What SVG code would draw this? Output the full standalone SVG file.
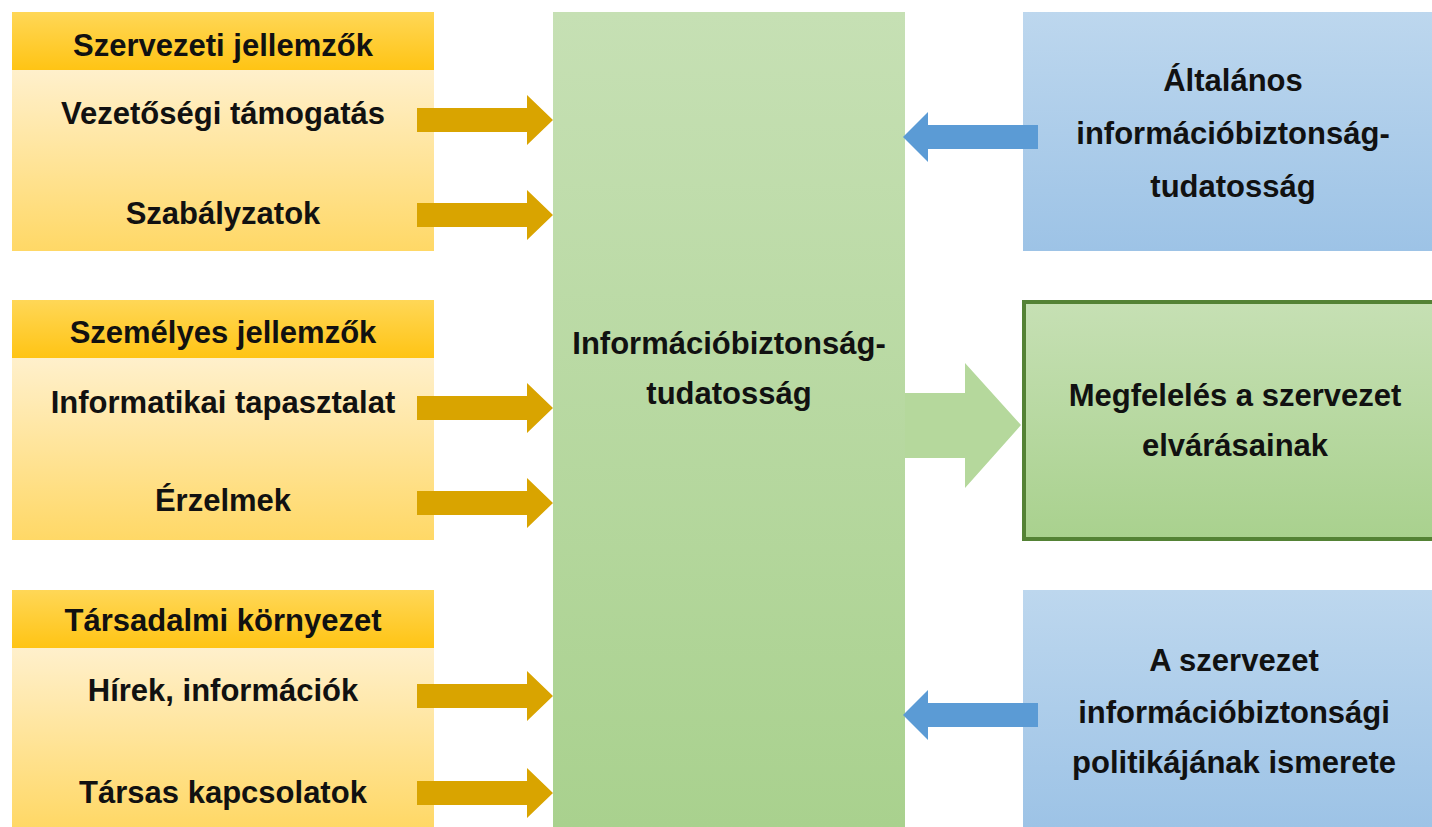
<svg xmlns="http://www.w3.org/2000/svg" width="1432" height="827" viewBox="0 0 1432 827">
<defs>
<linearGradient id="gHead" x1="0" y1="0" x2="0" y2="1"><stop offset="0" stop-color="#ffd757"/><stop offset="1" stop-color="#ffc414"/></linearGradient>
<linearGradient id="gBody" x1="0" y1="0" x2="0" y2="1"><stop offset="0" stop-color="#fff0cc"/><stop offset="1" stop-color="#ffd866"/></linearGradient>
<linearGradient id="gGreen" x1="0" y1="0" x2="0" y2="1"><stop offset="0" stop-color="#c6e0b4"/><stop offset="1" stop-color="#a9d18e"/></linearGradient>
<linearGradient id="gBlue" x1="0" y1="0" x2="0" y2="1"><stop offset="0" stop-color="#bdd7ee"/><stop offset="1" stop-color="#9dc3e6"/></linearGradient>
<polygon id="goldArrow" points="0,-12 110,-12 110,-25 136,0 110,25 110,12 0,12"/>
<polygon id="blueArrow" points="0,0 25,-25 25,-12 135,-12 135,12 25,12 25,25"/>
</defs>
<style>
text{font-family:"Liberation Sans",Arial,sans-serif;font-weight:bold;font-size:31px;fill:#111;text-anchor:middle}
.gold{fill:#d9a400}
.blue{fill:#5b9bd5}
</style>
<rect width="1432" height="827" fill="#ffffff"/>

<g id="central">
<rect x="553" y="12" width="352" height="815" fill="url(#gGreen)"/>
<text x="729" y="354">Információbiztonság-</text>
<text x="729" y="404">tudatosság</text>
</g>

<g id="group1">
<rect x="12" y="12" width="422" height="58" fill="url(#gHead)"/>
<rect x="12" y="70" width="422" height="181" fill="url(#gBody)"/>
<text x="223" y="56">Szervezeti jellemzők</text>
<text x="223" y="124">Vezetőségi támogatás</text>
<text x="223" y="224">Szabályzatok</text>
</g>

<g id="group2">
<rect x="12" y="300" width="422" height="58" fill="url(#gHead)"/>
<rect x="12" y="358" width="422" height="182" fill="url(#gBody)"/>
<text x="223" y="343">Személyes jellemzők</text>
<text x="223" y="413">Informatikai tapasztalat</text>
<text x="223" y="511">Érzelmek</text>
</g>

<g id="group3">
<rect x="12" y="590" width="422" height="58" fill="url(#gHead)"/>
<rect x="12" y="648" width="422" height="179" fill="url(#gBody)"/>
<text x="223" y="631">Társadalmi környezet</text>
<text x="223" y="701">Hírek, információk</text>
<text x="223" y="803">Társas kapcsolatok</text>
</g>

<g id="general">
<rect x="1023" y="12" width="409" height="239" fill="url(#gBlue)"/>
<text x="1233" y="91">Általános</text>
<text x="1233" y="144">információbiztonság-</text>
<text x="1233" y="197">tudatosság</text>
</g>

<g id="compliance">
<rect x="1024" y="302" width="412" height="237" fill="url(#gGreen)" stroke="#548235" stroke-width="4"/>
<text x="1235" y="406">Megfelelés a szervezet</text>
<text x="1235" y="456">elvárásainak</text>
</g>

<g id="policy">
<rect x="1023" y="590" width="409" height="237" fill="url(#gBlue)"/>
<text x="1234" y="671">A szervezet</text>
<text x="1234" y="723">információbiztonsági</text>
<text x="1234" y="773">politikájának ismerete</text>
</g>

<g id="connectors">
<use href="#goldArrow" class="gold" x="417" y="120"/>
<use href="#goldArrow" class="gold" x="417" y="215"/>
<use href="#goldArrow" class="gold" x="417" y="408"/>
<use href="#goldArrow" class="gold" x="417" y="503"/>
<use href="#goldArrow" class="gold" x="417" y="696"/>
<use href="#goldArrow" class="gold" x="417" y="793"/>
<use href="#blueArrow" class="blue" x="903" y="137"/>
<use href="#blueArrow" class="blue" x="903" y="715"/>
<polygon points="905,393 965,393 965,363 1021,425 965,488 965,458 905,458" fill="#b5d89c"/>
</g>
</svg>
